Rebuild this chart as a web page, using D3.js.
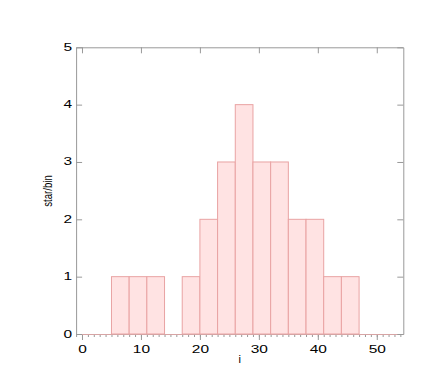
<!DOCTYPE html>
<html>
<head>
<meta charset="utf-8">
<script src="https://cdn.jsdelivr.net/npm/d3@7"></script>
<style>
  html, body { margin: 0; padding: 0; background: #fff; }
  svg { display: block; }
  text { font-family: "Liberation Sans", Arial, sans-serif; fill: #000; }
</style>
</head>
<body>
<script>
// ---- data ----
const binStarts = [5, 8, 11, 14, 17, 20, 23, 26, 29, 32, 35, 38, 41, 44];
const binWidth = 3;
const counts = [1, 1, 1, 0, 1, 2, 3, 4, 3, 3, 2, 2, 1, 1];
const xMajorTicks = [0, 10, 20, 30, 40, 50];
const xMinorTicks = d3.range(-1, 55, 1);
const yTicks = [0, 1, 2, 3, 4, 5];
const xLabel = "i";
const yLabel = "star/bin";

// ---- layout ----
const W = 436, H = 382;
const svg = d3.select("body").append("svg").attr("width", W).attr("height", H);

const x = d3.scaleLinear().domain([-1, 54.5]).range([76.1, 403.3]);
const y = d3.scaleLinear().domain([0, 5]).range([334, 47.3]);

const axisColor = "#999";
const sx = 1.55; // horizontal stretch of tick labels

// bars
const bins = binStarts.map((s, i) => ({ x0: s, x1: s + binWidth, n: counts[i] }));
svg.append("g").selectAll("rect")
  .data(bins.filter(d => d.n > 0))
  .join("rect")
  .attr("x", d => x(d.x0))
  .attr("y", d => y(d.n))
  .attr("width", d => x(d.x1) - x(d.x0))
  .attr("height", d => y(0) - y(d.n))
  .attr("fill", "#ffe3e3")
  .attr("stroke", "#e9a3a3")
  .attr("stroke-width", 1);

function styleAxis(g) {
  g.selectAll("path.domain").attr("stroke", axisColor);
  g.selectAll(".tick line").attr("stroke", axisColor);
}

// bottom minor ticks
svg.append("g").attr("transform", `translate(0,${y(0)})`)
  .call(d3.axisBottom(x).tickValues(xMinorTicks).tickSize(3).tickFormat(""))
  .call(styleAxis)
  .call(g => g.select(".domain").remove());

// bottom major ticks with labels
const gx = svg.append("g").attr("transform", `translate(0,${y(0)})`)
  .call(d3.axisBottom(x).tickValues(xMajorTicks).tickSize(6).tickSizeOuter(0).tickPadding(6).tickFormat(d3.format("d")))
  .call(styleAxis);
gx.selectAll(".tick text")
  .attr("font-size", 10)
  .attr("font-family", "Liberation Sans, Arial, sans-serif")
  .attr("transform", `scale(${sx},1)`);

// pink zero line of histogram
svg.append("line")
  .attr("x1", x(-1)).attr("x2", x(54.5))
  .attr("y1", y(0) + 0.5).attr("y2", y(0) + 0.5)
  .attr("stroke", "#e6a6a6").attr("stroke-width", 1).attr("stroke-opacity", 0.8);

// top axis
svg.append("g").attr("transform", `translate(0,${y(5)})`)
  .call(d3.axisTop(x).tickValues(xMajorTicks).tickSize(-6).tickSizeOuter(0).tickFormat(""))
  .call(styleAxis);

// left axis
const gy = svg.append("g").attr("transform", `translate(${x(-1)},0)`)
  .call(d3.axisLeft(y).tickValues(yTicks).tickSize(-6).tickSizeOuter(0).tickPadding(4).tickFormat(d3.format("d")))
  .call(styleAxis);
gy.selectAll(".tick text")
  .attr("font-size", 10)
  .attr("font-family", "Liberation Sans, Arial, sans-serif")
  .attr("x", -4 / sx)
  .attr("dy", "0.3em")
  .attr("transform", `scale(${sx},1)`);

// right axis
svg.append("g").attr("transform", `translate(${x(54.5)},0)`)
  .call(d3.axisRight(y).tickValues(yTicks).tickSize(-6).tickSizeOuter(0).tickFormat(""))
  .call(styleAxis);

// axis labels
svg.append("text")
  .attr("x", (x(-1) + x(54.5)) / 2)
  .attr("y", 363)
  .attr("text-anchor", "middle")
  .attr("font-size", 11)
  .text(xLabel);

svg.append("text")
  .attr("transform", `translate(52,191) rotate(-90) scale(0.8,1)`)
  .attr("text-anchor", "middle")
  .attr("font-size", 12)
  .text(yLabel);
</script>
</body>
</html>
